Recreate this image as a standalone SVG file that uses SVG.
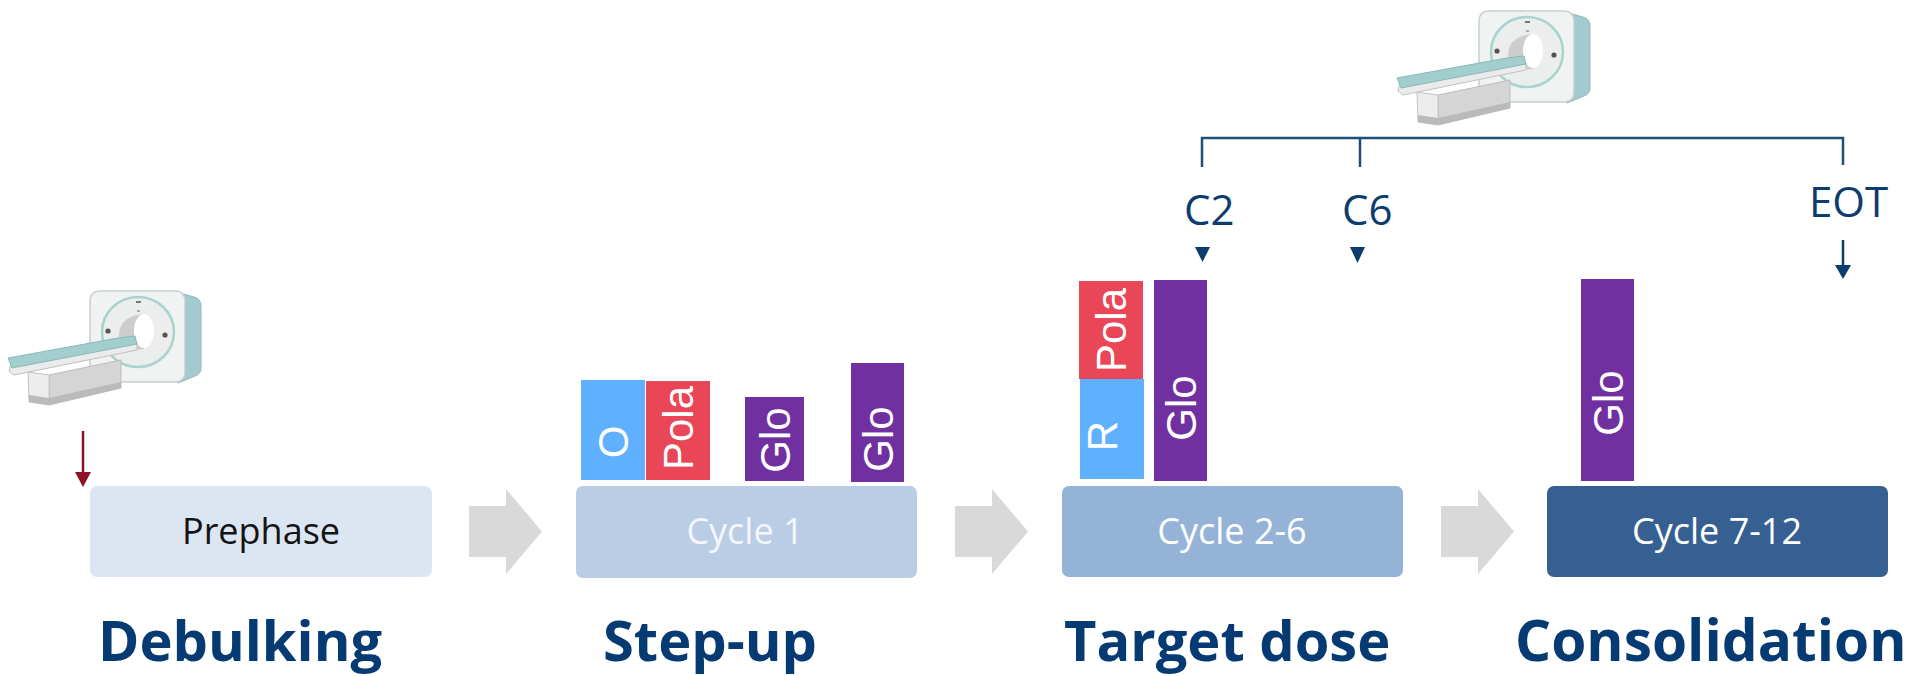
<svg xmlns="http://www.w3.org/2000/svg" xmlns:xlink="http://www.w3.org/1999/xlink" width="1921" height="676" viewBox="0 0 1921 676">
  <style>
    .phase { stroke: none; }
    .box-label { font-family: "Open Sans", "Liberation Sans", sans-serif; font-size: 36px; text-anchor: middle; }
    .title { font-family: "Open Sans", "Liberation Sans", sans-serif; font-weight: 700; font-size: 56px; fill: #053a72; }
    .drug { font-family: "Liberation Sans", Arial, sans-serif; font-size: 42px; fill: #ffffff; text-anchor: middle; }
    .visit { font-family: "Open Sans", "Liberation Sans", sans-serif; font-size: 42px; fill: #0d3c6e; }
    .flow { fill: #d9d9d9; }
    .bracket { fill: none; stroke: #1f4e79; stroke-width: 2.5; }
  </style>
  <defs>
    <!-- CT scanner illustration, drawn in a 195 x 124 local frame -->
    <g id="ct-scanner">
      <!-- gantry side panel -->
      <path d="M168,4 L186,9 Q193,11 193,18 L193,80 Q193,86 187,88 L170,95 Z" fill="#a3cbcf" stroke="#8cb9bd" stroke-width="1"/>
      <!-- gantry front -->
      <rect x="82" y="3" width="95" height="91" rx="9" fill="#f1f2f2" stroke="#c6d0d1" stroke-width="1.5"/>
      <!-- ring -->
      <ellipse cx="130" cy="44" rx="36" ry="35" fill="#eceeee" stroke="#a9d3cf" stroke-width="2.5"/>
      <!-- tunnel -->
      <path d="M136,26 Q112,28 111,46 Q112,64 136,61 Z" fill="#cdcdcd"/>
      <ellipse cx="136" cy="43" rx="10" ry="17" fill="#ffffff"/>
      <!-- control dots -->
      <circle cx="100" cy="43" r="2.6" fill="#555"/>
      <circle cx="157" cy="47" r="2.6" fill="#555"/>
      <rect x="128" y="13" width="5" height="2" fill="#777"/>
      <rect x="129" y="22" width="3" height="2" fill="#aaa"/>
      <!-- pedestal -->
      <polygon points="41,87 113,72 113,100 41,117" fill="#d5d5d5" stroke="#bcbcbc" stroke-width="1"/>
      <polygon points="20,84 41,87 41,117 21,114" fill="#ededed" stroke="#c4c4c4" stroke-width="1"/>
      <polygon points="21,107 41,110 113,94 113,100 41,117 21,114" fill="#bababa"/>
      <!-- table rim -->
      <polygon points="2,78 129,55 129,62 6,87 1,83" fill="#ebebeb" stroke="#c0c0c0" stroke-width="1"/>
      <!-- table top -->
      <polygon points="0,70 110,50 127,48 129,56 4,80" fill="#a2cece" stroke="#8bb8b8" stroke-width="1"/>
    </g>
  </defs>

  <rect width="1921" height="676" fill="#ffffff"/>

  <!-- scanners -->
  <g id="scanner-baseline">
    <use xlink:href="#ct-scanner" href="#ct-scanner" transform="translate(8,288)"/>
  </g>
  <g id="scanner-followup">
    <use xlink:href="#ct-scanner" href="#ct-scanner" transform="translate(1397,8)"/>
  </g>

  <!-- phase boxes -->
  <g id="prephase">
    <rect class="phase" x="90" y="486" width="342" height="91" rx="7" fill="#dce6f2"/>
    <text class="box-label" x="261" y="544" fill="#141414">Prephase</text>
  </g>
  <g id="cycle-1">
    <rect class="phase" x="576" y="486" width="341" height="92" rx="7" fill="#b9cde5"/>
    <text class="box-label" x="745" y="544" fill="#f3f6fb">Cycle 1</text>
  </g>
  <g id="cycle-2-6">
    <rect class="phase" x="1062" y="486" width="341" height="91" rx="7" fill="#95b3d7"/>
    <text class="box-label" x="1232" y="544" fill="#ffffff">Cycle 2-6</text>
  </g>
  <g id="cycle-7-12">
    <rect class="phase" x="1547" y="486" width="341" height="91" rx="7" fill="#376092"/>
    <text class="box-label" x="1717" y="544" fill="#ffffff">Cycle 7-12</text>
  </g>

  <!-- dosing bars, cycle 1 -->
  <g id="c1-o">
    <rect x="581" y="380" width="64" height="100" fill="#5fb1fe"/>
    <text class="drug" transform="translate(628,442) rotate(-90)">O</text>
  </g>
  <g id="c1-pola">
    <rect x="646" y="381" width="64" height="99" fill="#e94658"/>
    <text class="drug" transform="translate(693,428) rotate(-90)">Pola</text>
  </g>
  <g id="c1-glo-a">
    <rect x="745" y="397" width="59" height="84" fill="#7030a0"/>
    <text class="drug" transform="translate(790,440) rotate(-90)">Glo</text>
  </g>
  <g id="c1-glo-b">
    <rect x="851" y="363" width="53" height="119" fill="#7030a0"/>
    <text class="drug" transform="translate(893,439) rotate(-90)">Glo</text>
  </g>

  <!-- dosing bars, cycles 2-6 -->
  <g id="c26-r">
    <rect x="1080" y="379" width="64" height="100" fill="#5fb1fe"/>
    <text class="drug" transform="translate(1117,436) rotate(-90)">R</text>
  </g>
  <g id="c26-pola">
    <rect x="1079" y="281" width="64" height="98" fill="#e94658"/>
    <text class="drug" transform="translate(1126,330) rotate(-90)">Pola</text>
  </g>
  <g id="c26-glo">
    <rect x="1154" y="280" width="53" height="201" fill="#7030a0"/>
    <text class="drug" transform="translate(1196,408) rotate(-90)">Glo</text>
  </g>

  <!-- dosing bar, cycles 7-12 -->
  <g id="c712-glo">
    <rect x="1581" y="279" width="53" height="202" fill="#7030a0"/>
    <text class="drug" transform="translate(1623,403) rotate(-90)">Glo</text>
  </g>

  <!-- phase titles -->
  <g id="titles">
    <text class="title" x="98" y="661">Debulking</text>
    <text class="title" x="603" y="661">Step-up</text>
    <text class="title" x="1064" y="661">Target dose</text>
    <text class="title" x="1515" y="661" style="font-size:56.8px">Consolidation</text>
  </g>

  <!-- assessment time points -->
  <g id="timepoints">
    <text class="visit" x="1184" y="225">C2</text>
    <text class="visit" x="1342" y="225">C6</text>
    <text class="visit" x="1809" y="217">EOT</text>
  </g>

  <!-- connectors -->
  <g id="connectors">
    <polygon class="flow" points="469,506 506,506 506,489 542,531.5 506,574 506,557 469,557"/>
    <polygon class="flow" points="955,506 992,506 992,489 1028,531.5 992,574 992,557 955,557"/>
    <polygon class="flow" points="1441,506 1478,506 1478,489 1514,531.5 1478,574 1478,557 1441,557"/>

    <line x1="83" y1="431" x2="83" y2="473" stroke="#8e1126" stroke-width="2.5"/>
    <polygon points="75,472 91,472 83,487" fill="#8e1126"/>

    <path class="bracket" d="M1202,167 V138 H1843 V165"/>
    <line class="bracket" x1="1360" y1="138" x2="1360" y2="167"/>

    <polygon points="1195,247 1210,247 1202.5,262" fill="#0d3c6e"/>
    <polygon points="1350,247 1365,247 1357.5,263" fill="#0d3c6e"/>
    <line x1="1843" y1="240" x2="1843" y2="266" stroke="#0d3c6e" stroke-width="2.5"/>
    <polygon points="1835,265 1851,265 1843,279" fill="#0d3c6e"/>
  </g>
</svg>
